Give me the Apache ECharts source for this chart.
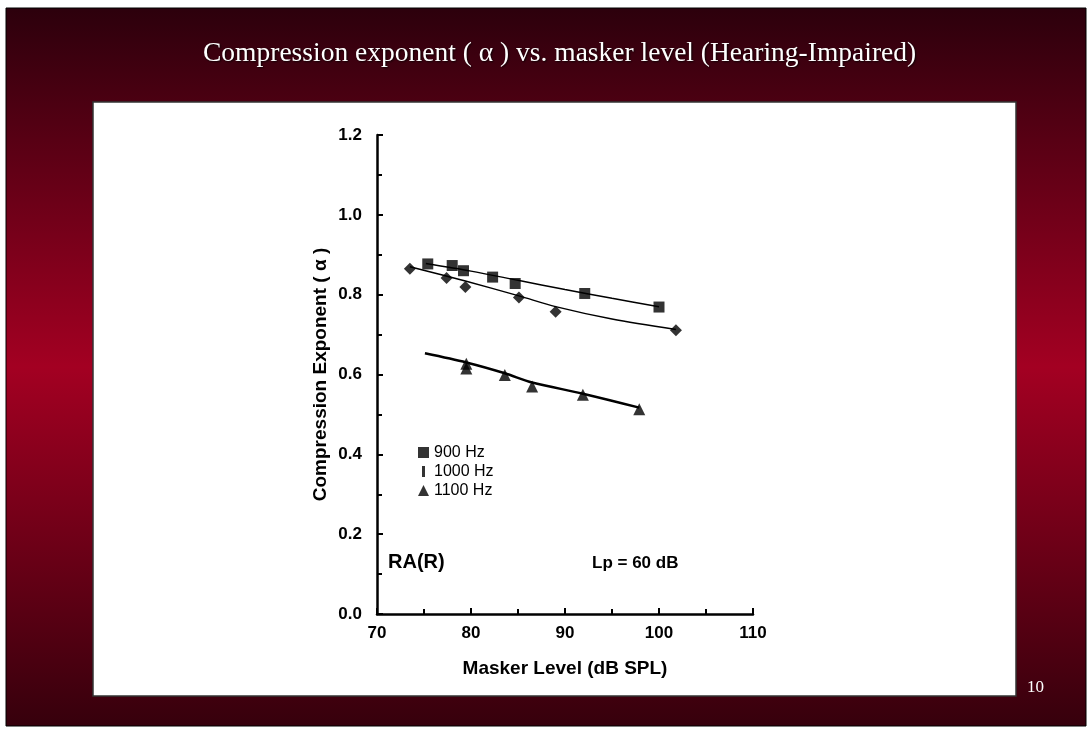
<!DOCTYPE html>
<html>
<head>
<meta charset="utf-8">
<script src="https://cdn.jsdelivr.net/npm/echarts@6/dist/echarts.min.js"></script>
<style>
  html, body { margin: 0; padding: 0; background: #fff; }
  #chart { width: 1091px; height: 731px; }
</style>
</head>
<body>
<div id="chart"></div>
<script>
  var sq900X = [75.4, 78.0, 79.2, 82.3, 84.7, 92.1, 100.0];
  var sq900Y = [0.877, 0.873, 0.860, 0.844, 0.828, 0.803, 0.769];
  var dia1000X = [73.5, 77.4, 79.4, 85.1, 89.0, 101.8];
  var dia1000Y = [0.865, 0.842, 0.819, 0.793, 0.757, 0.711];
  var tri1100X = [79.5, 79.5, 83.6, 86.5, 91.9, 97.9];
  var tri1100Y = [0.627, 0.615, 0.599, 0.570, 0.549, 0.513];

  // fitted curves
  var fit900X = [75.2, 80, 85, 90, 95, 100];
  var fit900Y = [0.878, 0.859, 0.836, 0.813, 0.791, 0.770];
  var fit1000X = [73.5, 79.4, 85.1, 89.0, 95, 101.8];
  var fit1000Y = [0.870, 0.834, 0.797, 0.770, 0.739, 0.713];
  var fit1100X = [75.1, 79.5, 83.6, 86.5, 91.9, 97.9];
  var fit1100Y = [0.653, 0.630, 0.603, 0.580, 0.552, 0.517];

  var legendNames = ['900 Hz', '1000 Hz', '1100 Hz'];

  function pairs(xs, ys) {
    var out = [];
    for (var i = 0; i < xs.length; i++) out.push([xs[i], ys[i]]);
    return out;
  }

  var font = 'Liberation Sans, Arial, sans-serif';
  var serif = 'Liberation Serif, Times New Roman, serif';

  var option = {
    animation: false,
    graphic: [
      {
        type: 'rect', z: -10,
        shape: {x: 6, y: 8, width: 1080, height: 718},
        style: {
          fill: new echarts.graphic.LinearGradient(0, 0, 0, 1, [
            {offset: 0, color: '#2c000c'},
            {offset: 0.5, color: '#a30022'},
            {offset: 1, color: '#36000c'}
          ]),
          stroke: '#000', lineWidth: 1
        }
      },
      {
        type: 'rect', z: -9,
        shape: {x: 93, y: 102, width: 923, height: 594},
        style: {fill: '#fff', stroke: '#333', lineWidth: 1.5}
      },
      {
        type: 'text', left: 388, top: 552,
        style: {text: 'RA(R)', font: 'bold 20px ' + font, fill: '#000'}
      },
      {
        type: 'text', left: 592, top: 555,
        style: {text: 'Lp = 60 dB', font: 'bold 17px ' + font, fill: '#000'}
      },
      {
        type: 'text', left: 1027, top: 679,
        style: {text: '10', font: '17px ' + serif, fill: '#fff'}
      }
    ],
    title: {
      text: 'Compression exponent ( \u03b1 ) vs. masker level (Hearing-Impaired)',
      left: 198,
      top: 35,
      textStyle: {
        color: '#fff',
        fontFamily: serif,
        fontWeight: 'normal',
        fontSize: 27.5,
        textShadowColor: 'rgba(0,0,0,0.8)',
        textShadowBlur: 2,
        textShadowOffsetX: 1,
        textShadowOffsetY: 1
      }
    },
    legend: {
      orient: 'vertical',
      left: 413,
      top: 439,
      itemWidth: 11,
      itemHeight: 11,
      itemGap: 2,
      textStyle: {fontFamily: font, fontSize: 16, lineHeight: 17, color: '#000'},
      data: [
        {name: legendNames[0], icon: 'rect'},
        {name: legendNames[1], icon: 'path://M0,0 L3,0 L3,11 L0,11 Z'},
        {name: legendNames[2], icon: 'triangle'}
      ]
    },
    grid: {left: 377, right: 338, top: 135, bottom: 117},
    xAxis: {
      type: 'value',
      min: 70, max: 110, interval: 10,
      name: 'Masker Level (dB SPL)',
      nameLocation: 'middle',
      nameGap: 45,
      nameTextStyle: {fontFamily: font, fontSize: 19, fontWeight: 'bold', color: '#000'},
      axisLine: {lineStyle: {color: '#000', width: 2.5}},
      axisTick: {inside: true, length: 6, lineStyle: {color: '#000', width: 2}},
      minorTick: {show: true, splitNumber: 2, length: 5, lineStyle: {color: '#000', width: 2}},
      axisLabel: {fontFamily: font, fontSize: 17, fontWeight: 'bold', color: '#000', margin: 11},
      splitLine: {show: false}
    },
    yAxis: {
      type: 'value',
      min: 0, max: 1.2, interval: 0.2,
      name: 'Compression Exponent ( \u03b1 )',
      nameLocation: 'middle',
      nameGap: 47,
      nameTextStyle: {fontFamily: font, fontSize: 19, fontWeight: 'bold', color: '#000'},
      axisLine: {show: true, lineStyle: {color: '#000', width: 2.5}},
      axisTick: {show: true, inside: true, length: 6, lineStyle: {color: '#000', width: 2}},
      minorTick: {show: true, splitNumber: 2, length: 5, lineStyle: {color: '#000', width: 2}},
      axisLabel: {fontFamily: font, fontSize: 17, fontWeight: 'bold', color: '#000', margin: 15,
        formatter: function (v) { return v.toFixed(1); }},
      splitLine: {show: false}
    },
    series: [
      {
        type: 'line', data: pairs(fit900X, fit900Y), smooth: 0.3, showSymbol: false,
        lineStyle: {color: '#000', width: 1.5}, silent: true
      },
      {
        type: 'line', data: pairs(fit1000X, fit1000Y), smooth: 0.3, showSymbol: false,
        lineStyle: {color: '#000', width: 1.5}, silent: true
      },
      {
        type: 'line', data: pairs(fit1100X, fit1100Y), smooth: 0.3, showSymbol: false,
        lineStyle: {color: '#000', width: 2.5}, silent: true
      },
      {
        name: legendNames[0], type: 'scatter', data: pairs(sq900X, sq900Y),
        symbol: 'rect', symbolSize: 11, itemStyle: {color: '#000'}
      },
      {
        name: legendNames[1], type: 'scatter', data: pairs(dia1000X, dia1000Y),
        symbol: 'diamond', symbolSize: 12, itemStyle: {color: '#000'}
      },
      {
        name: legendNames[2], type: 'scatter', data: pairs(tri1100X, tri1100Y),
        symbol: 'triangle', symbolSize: 12, itemStyle: {color: '#000'}
      }
    ]
  };

  var chart = echarts.init(document.getElementById('chart'));
  chart.setOption(option);
</script>
</body>
</html>
